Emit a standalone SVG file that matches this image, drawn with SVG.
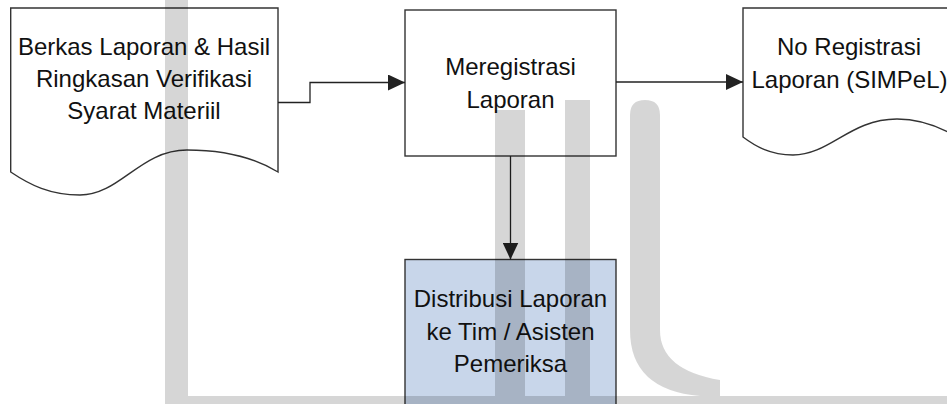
<svg xmlns="http://www.w3.org/2000/svg" width="947" height="404" viewBox="0 0 947 404">
  <defs>
    <style>
      .node { stroke: #333; stroke-width: 1.4; }
      .doc { fill: #ffffff; }
      .proc { fill: #ffffff; }
      .dist { fill: #c8d6ea; }
      .lbl { font-family: "Liberation Sans", Arial, sans-serif; font-size: 24px; fill: #111; text-anchor: middle; }
      .conn { fill: none; stroke: #222; stroke-width: 1.3; }
      .wm { fill: #000; fill-opacity: 0.16; }
    </style>
    <marker id="arrow" viewBox="0 0 17 16" refX="17" refY="8" markerWidth="17" markerHeight="16" markerUnits="userSpaceOnUse" orient="auto">
      <path d="M0,0 L17,8 L0,16 Z" fill="#222"/>
    </marker>
  </defs>

  <rect width="947" height="404" fill="#ffffff"/>

  <g id="berkas-laporan">
    <path class="node doc" d="M10.7,8 H278 V172 C250,155 215,150 187,150 C140,150 120,195 80,195 C50,195 30,185 10.7,172 Z"/>
    <text class="lbl" x="144" y="55">Berkas Laporan &amp; Hasil</text>
    <text class="lbl" x="144" y="87">Ringkasan Verifikasi</text>
    <text class="lbl" x="144" y="119">Syarat Materiil</text>
  </g>

  <g id="meregistrasi-laporan">
    <rect class="node proc" x="405" y="10" width="211" height="146"/>
    <text class="lbl" x="510.5" y="75">Meregistrasi</text>
    <text class="lbl" x="510.5" y="107.5">Laporan</text>
  </g>

  <g id="no-registrasi">
    <path class="node doc" d="M743,8 H957 V137 C937,125 915,119 897,119 C850,119 830,155 793,155 C770,155 755,146 743,137 Z"/>
    <text class="lbl" x="849" y="55">No Registrasi</text>
    <text class="lbl" x="849.5" y="88">Laporan (SIMPeL)</text>
  </g>

  <g id="distribusi-laporan">
    <rect class="node dist" x="405" y="259.5" width="211" height="160"/>
    <text class="lbl" x="510.5" y="307">Distribusi Laporan</text>
    <text class="lbl" x="510.5" y="339.5">ke Tim / Asisten</text>
    <text class="lbl" x="510.5" y="371.5">Pemeriksa</text>
  </g>

  <g id="connectors">
    <path class="conn" d="M278,102.5 H310 V82.5 H405" marker-end="url(#arrow)"/>
    <path class="conn" d="M616,82 H743" marker-end="url(#arrow)"/>
    <path class="conn" d="M510.5,156 V259.5" marker-end="url(#arrow)"/>
  </g>

  <g id="watermark">
    <rect class="wm" x="165" y="0" width="23" height="396"/>
    <rect class="wm" x="165" y="396" width="782" height="8"/>
    <rect class="wm" x="495" y="110" width="30" height="286"/>
    <rect class="wm" x="565" y="100" width="25" height="296"/>
    <path class="wm" d="M630,115 Q630,100 645,100 Q660,100 660,115 V330 Q660,370 720,380 L720,396 L700,396 Q630,390 630,330 Z"/>
  </g>
</svg>
